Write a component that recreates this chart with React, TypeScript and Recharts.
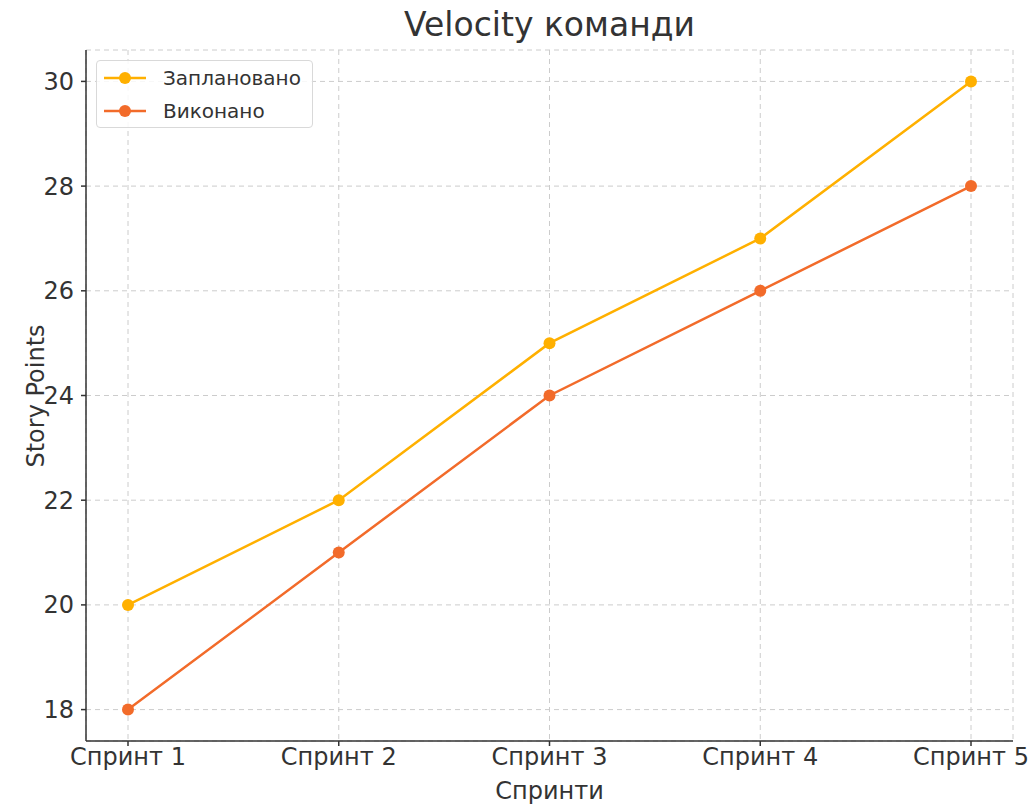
import {
  LineChart,
  Line,
  XAxis,
  YAxis,
  CartesianGrid,
} from "recharts";

const sprints = ["Спринт 1", "Спринт 2", "Спринт 3", "Спринт 4", "Спринт 5"];
const planned = [20, 22, 25, 27, 30];
const done = [18, 21, 24, 26, 28];
const yTicks = [18, 20, 22, 24, 26, 28, 30];

const PLANNED_COLOR = "#FFB000";
const DONE_COLOR = "#F26B2A";
const FONT = "'DejaVu Sans', sans-serif";
const TEXT = "#333333";

const data = sprints.map((s, i) => ({ sprint: s, planned: planned[i], done: done[i] }));

const series = [
  { key: "planned", name: "Заплановано", color: PLANNED_COLOR },
  { key: "done", name: "Виконано", color: DONE_COLOR },
];

function LegendBox() {
  return (
    <div
      style={{
        position: "absolute",
        left: 96,
        top: 60,
        width: 217,
        height: 68,
        boxSizing: "border-box",
        border: "1.5px solid #d9d9d9",
        borderRadius: 4,
        background: "rgba(255,255,255,0.85)",
        padding: "0 0 0 7px",
        fontFamily: FONT,
        fontSize: 20,
        color: TEXT,
      }}
    >
      {series.map((s, i) => (
        <div
          key={s.key}
          style={{ position: "absolute", left: 7, top: i === 0 ? 2 : 35, display: "flex", alignItems: "center", height: 30 }}
        >
          <svg width={42} height={14} style={{ marginRight: 17 }}>
            <line x1={0} y1={7} x2={42} y2={7} stroke={s.color} strokeWidth={2.5} />
            <circle cx={21} cy={7} r={6} fill={s.color} />
          </svg>
          <span style={{ whiteSpace: "nowrap" }}>{s.name}</span>
        </div>
      ))}
    </div>
  );
}

export default function App() {
  return (
    <div style={{ position: "absolute", left: 0, top: 0, width: 1035, height: 805, background: "#fff" }}>
      <LineChart
        width={1035}
        height={805}
        data={data}
        margin={{ top: 50, right: 22, bottom: 0, left: 0 }}
      >
        <CartesianGrid stroke="#cccccc" strokeDasharray="5 4" />
        <XAxis
          dataKey="sprint"
          padding={{ left: 42, right: 42 }}
          height={64}
          stroke={TEXT}
          strokeWidth={1.5}
          tickSize={5}
          tickMargin={2}
          tick={{ fill: TEXT, fontSize: 24, fontFamily: FONT }}
          interval={0}
          label={{
            value: "Спринти",
            position: "insideBottom",
            offset: 6,
            fill: TEXT,
            fontSize: 24,
            fontFamily: FONT,
          }}
        />
        <YAxis
          type="number"
          domain={[17.4, 30.6]}
          ticks={yTicks}
          allowDataOverflow
          width={86}
          stroke={TEXT}
          strokeWidth={1.5}
          tickSize={5}
          tickMargin={7}
          tick={{ fill: TEXT, fontSize: 24, fontFamily: FONT }}
          label={{
            value: "Story Points",
            content: () => (
              <text
                x={36}
                y={396}
                transform="rotate(-90 36 396)"
                textAnchor="middle"
                dominantBaseline="central"
                fill={TEXT}
                fontSize={24}
                fontFamily={FONT}
              >
                Story Points
              </text>
            ),
          }}
        />
        {series.map((s) => (
          <Line
            key={s.key}
            dataKey={s.key}
            name={s.name}
            stroke={s.color}
            strokeWidth={2.5}
            dot={{ r: 6, fill: s.color, stroke: s.color, strokeWidth: 0 }}
            activeDot={false}
            isAnimationActive={false}
          />
        ))}
      </LineChart>
      <div
        style={{
          position: "absolute",
          left: 0,
          top: 5,
          width: 1099,
          textAlign: "center",
          fontFamily: FONT,
          fontSize: 33,
          color: TEXT,
          lineHeight: "40px",
        }}
      >
        Velocity команди
      </div>
      <LegendBox />
    </div>
  );
}
